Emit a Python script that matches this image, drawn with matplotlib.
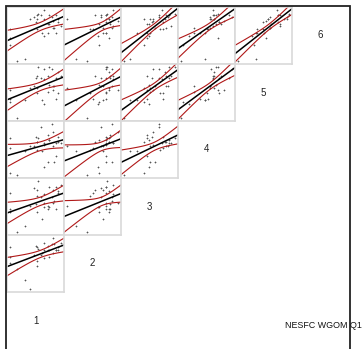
import numpy as np
import matplotlib
matplotlib.use("Agg")
import matplotlib.pyplot as plt
from matplotlib.patches import Rectangle

# log index by cohort (rows line up across ages)
age1 = [0.9, -2.0, -0.6, 1.1, -2.5, -1.0, 0.6, 0.8, -0.5, 0.0, 0.9, 0.7, -0.4, -2.5, 0.35,
        0.35, -0.2, 1.3, -0.1, -0.5, 0.0, 0.7, -2.5, 1.05, 0.0, -0.5, 0.4, -1.4, -0.7, 0.4]
age2 = [0.3, -0.9, 0.6, 0.3, -0.1, -2.2, 0.7, 0.7, -0.7, 0.3, 0.3, 1.1, 0.4, -0.5, 0.6,
        0.3, 0.0, 0.8, 0.1, -0.4, 0.8, 0.1, 0.5, 0.5, -0.2, 0.5, 0.3, -1.6, 0.0, -0.1]
age3 = [1.2, -1.9, 0.0, 0.8, -0.5, -0.1, 0.5, 0.2, 0.6, 0.1, -0.3, 0.1, 1.6, 0.8, -0.3,
        -0.1, 0.5, 1.3, -1.0, 1.0, 0.7, 1.0, -0.3, 0.9, -0.2, -0.5, 1.2, -1.5, 1.1, -0.2]
age4 = [0.4, -1.6, 0.8, 0.8, -1.5, 0.2, 1.6, -0.8, 0.0, 0.3, -0.4, 1.1, 0.7, 0.1, 0.9,
        -0.8, 1.4, 0.4, -0.1, 0.5, 0.4, 0.2, 0.7, 0.5, -1.1, 0.5, 0.6, -0.1, 0.2, 0.6]
age5 = [0.7, -1.6, 0.7, -0.2, -0.7, 0.1, 1.2, 0.2, -0.2, 1.2, -0.5, 0.0, 1.3, -0.5, 0.8,
        -0.1, 0.7, 0.8, -0.6, 0.8, 0.6, 0.2, 0.0, 1.0, -0.8, 0.1, 1.3, -0.6, 0.2, 0.3]
age6 = [0.8, -1.8, 0.4, 0.4, -0.9, 0.6, 0.7, 0.1, 0.0, 0.6, -0.2, 0.5, 0.9, 0.0, 0.3,
        -0.2, 0.8, 0.2, -0.2, 0.8, 1.1, 0.1, -0.5, 0.6, -0.4, 0.6, 0.8, -1.7, 0.7, 0.3]

ages = [age1, age2, age3, age4, age5, age6]
age_labels = ["1", "2", "3", "4", "5", "6"]
title = "NESFC WGOM Q1"

W, H = 362, 349
x0, y0, cell = 7, 7, 57

fig = plt.figure(figsize=(W / 100, H / 100), dpi=100)


def panel(ax, x, y):
    x = np.asarray(x, float)
    y = np.asarray(y, float)
    n = len(x)
    b, a = np.polyfit(x, y, 1)
    resid = y - (a + b * x)
    s = np.sqrt(np.sum(resid ** 2) / (n - 2))
    sxx = np.sum((x - x.mean()) ** 2)
    px = (x.max() - x.min()) * 0.06
    py = (y.max() - y.min()) * 0.06
    xs = np.linspace(x.min() - px, x.max() + px, 50)
    fit = a + b * xs
    se = s * np.sqrt(1.0 / n + (xs - x.mean()) ** 2 / sxx)
    ax.plot(x, y, "+", color="#555555", ms=2.0, mew=0.5)
    ax.plot(xs, fit, color="black", lw=1.1)
    ax.plot(xs, fit + 2.05 * se, color="#b01818", lw=0.8)
    ax.plot(xs, fit - 2.05 * se, color="#b01818", lw=0.8)
    ax.set_xlim(x.min() - px, x.max() + px)
    ax.set_ylim(y.min() - py, y.max() + py)
    ax.set_xticks([])
    ax.set_yticks([])
    for sp in ax.spines.values():
        sp.set_color("#d9d9d9")
        sp.set_linewidth(1.2)


for r in range(6):
    yi = 5 - r
    for c in range(5 - r):
        ax = fig.add_axes([(x0 + cell * c) / W, 1 - (y0 + cell * (r + 1)) / H,
                           cell / W, cell / H])
        panel(ax, ages[c], ages[yi])
    # age label on the diagonal
    fig.text((x0 + cell * (5 - r) + cell / 2) / W, 1 - (y0 + cell * r + cell / 2) / H,
             age_labels[yi], ha="center", va="center", fontsize=7,
             family="Liberation Sans", color="#222222")

fig.text(285 / W, 1 - 325 / H, title, ha="left", va="center", fontsize=6.4,
         family="Liberation Sans", color="#111111")

# outer frame
fig.patches.append(Rectangle((6 / W, -2 / H), 344 / W, (H - 6 + 2) / H,
                             transform=fig.transFigure, fill=False,
                             edgecolor="#222222", lw=1.3))

fig.savefig("out.png", dpi=100)
